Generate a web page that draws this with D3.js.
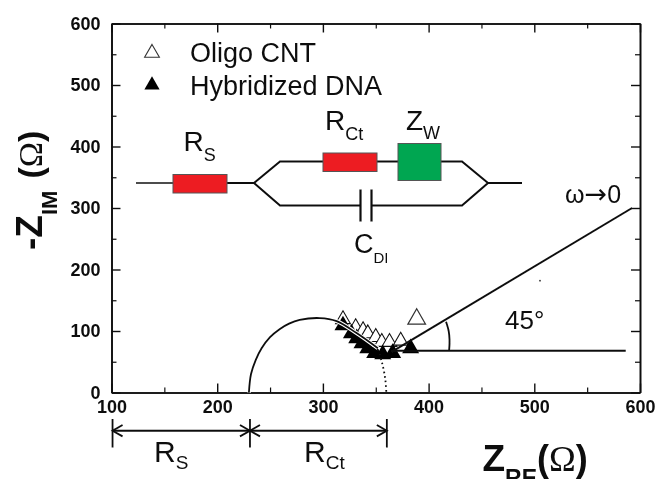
<!DOCTYPE html>
<html>
<head>
<meta charset="utf-8">
<script src="https://cdn.jsdelivr.net/npm/d3@7"></script>
<style>
  html, body { margin: 0; padding: 0; background: #fff; overflow: hidden; }
  svg { display: block; }
  text { font-family: "Liberation Sans", Arial, sans-serif; fill: #111; }
  .tick text { font-size: 18px; font-weight: bold; }
</style>
</head>
<body>
<svg></svg>
<script>
const xMajor = [100, 200, 300, 400, 500, 600];
const xMinor = [150, 250, 350, 450, 550];
const yMajor = [0, 100, 200, 300, 400, 500, 600];
const yMinor = [50, 150, 250, 350, 450, 550];

// [Z_RE, -Z_IM]
const oligoCnt = [[319, 119], [331, 106], [338, 101], [342.5, 96], [350, 90], [355.7, 82], [363, 82], [373.6, 84]];
const hybridizedDna = [[319, 109], [327, 96], [332, 88], [337, 80], [342.5, 72], [349, 64], [356.6, 62], [366, 64], [383, 72]];
const arcSolid = [[230, 0], [232, 30], [236.5, 53], [242, 72], [250, 90], [259, 103], [268, 112], [278, 118], [297, 121], [313, 116], [331.5, 97], [352, 72]];
const arcDotted = [[352, 70], [356, 48], [359, 22], [360, 0]];
const warburg = [[365, 66], [592.5, 300]];
const baseline = [[365, 68], [586.5, 68]];
const angleArc = [[419.4, 68], [419.8, 85], [419, 100], [416.5, 115]];
const spanMarks = [101, 231, 360.5];

const width = 656;
const height = 479;

const x = d3.scaleLinear().domain([100, 600]).range([111.5, 640]);
const y = d3.scaleLinear().domain([0, 600]).range([392.5, 23.5]);

const svg = d3.select('svg').attr('width', width).attr('height', height);

const defs = svg.append('defs');
defs.append('filter').attr('id', 'soft').append('feGaussianBlur').attr('stdDeviation', 0.45);

const root = svg.append('g').attr('filter', 'url(#soft)');

function addAxis(axis, tx, ty, major) {
  const g = root.append('g').attr('transform', 'translate(' + tx + ',' + ty + ')').call(axis);
  g.selectAll('.domain').attr('stroke', '#111').attr('stroke-width', 1.6);
  g.selectAll('.tick line').attr('stroke', '#111').attr('stroke-width', major ? 1.4 : 1.2);
  return g;
}

addAxis(d3.axisBottom(x).tickValues(xMinor).tickSizeInner(-5).tickSizeOuter(0).tickFormat(''), 0, y(0), false);
addAxis(d3.axisBottom(x).tickValues(xMajor).tickSizeInner(-9).tickSizeOuter(0).tickPadding(8), 0, y(0), true)
  .selectAll('.tick text').attr('dy', '0.72em');
addAxis(d3.axisTop(x).tickValues(xMinor).tickSizeInner(-5).tickSizeOuter(0).tickFormat(''), 0, y(600), false);
addAxis(d3.axisTop(x).tickValues(xMajor).tickSizeInner(-9).tickSizeOuter(0).tickFormat(''), 0, y(600), true);
addAxis(d3.axisLeft(y).tickValues(yMinor).tickSizeInner(-5).tickSizeOuter(0).tickFormat(''), x(100), 0, false);
addAxis(d3.axisLeft(y).tickValues(yMajor).tickSizeInner(-9).tickSizeOuter(0).tickPadding(11), x(100), 0, true);
addAxis(d3.axisRight(y).tickValues(yMinor).tickSizeInner(-5).tickSizeOuter(0).tickFormat(''), x(600), 0, false);
addAxis(d3.axisRight(y).tickValues(yMajor).tickSizeInner(-9).tickSizeOuter(0).tickFormat(''), x(600), 0, true);

const line = d3.line().x((d) => x(d[0])).y((d) => y(d[1]));
const curve = d3.line().x((d) => x(d[0])).y((d) => y(d[1])).curve(d3.curveCatmullRom);

root.append('g').selectAll('path').data(oligoCnt).join('path')
  .attr('d', d3.symbol().type(d3.symbolTriangle).size(95))
  .attr('transform', (d) => 'translate(' + x(d[0]) + ',' + y(d[1]) + ')')
  .attr('fill', '#fff').attr('stroke', '#111').attr('stroke-width', 1.1);

root.append('g').selectAll('path').data(hybridizedDna).join('path')
  .attr('d', d3.symbol().type(d3.symbolTriangle).size(125))
  .attr('transform', (d) => 'translate(' + x(d[0]) + ',' + y(d[1]) + ')')
  .attr('fill', '#000');

// white casing where the arc crosses the markers
root.append('path').datum(arcSolid).attr('d', curve).attr('fill', 'none').attr('stroke', '#fff').attr('stroke-width', 4);
root.append('path').datum(arcSolid).attr('d', curve).attr('fill', 'none').attr('stroke', '#111').attr('stroke-width', 1.8);
root.append('path').datum(arcDotted).attr('d', curve).attr('fill', 'none').attr('stroke', '#111')
  .attr('stroke-width', 1.8).attr('stroke-dasharray', '1.6 3');

root.append('path').datum(warburg).attr('d', line).attr('stroke', '#111').attr('stroke-width', 2);
root.append('path').datum(baseline).attr('d', line).attr('stroke', '#111').attr('stroke-width', 2);
root.append('path').datum(angleArc).attr('d', curve).attr('fill', 'none').attr('stroke', '#111').attr('stroke-width', 1.8);

// loose open triangle next to the data, and the speck in the scan
root.append('path').attr('d', d3.symbol().type(d3.symbolTriangle).size(135))
  .attr('transform', 'translate(416.7,319)')
  .attr('fill', '#fff').attr('stroke', '#333').attr('stroke-width', 1.2);
root.append('circle').attr('cx', 540).attr('cy', 280.7).attr('r', 0.9).attr('fill', '#333');

// legend
root.append('path').attr('d', d3.symbol().type(d3.symbolTriangle).size(95))
  .attr('transform', 'translate(152,53)')
  .attr('fill', '#fff').attr('stroke', '#333').attr('stroke-width', 1.1);
root.append('path').attr('d', d3.symbol().type(d3.symbolTriangle).size(100))
  .attr('transform', 'translate(152,85)').attr('fill', '#000');
root.append('text').attr('x', 190).attr('y', 62).attr('font-size', 27).text('Oligo CNT');
root.append('text').attr('x', 190).attr('y', 95).attr('font-size', 27).text('Hybridized DNA');

// equivalent circuit
const wire = (pts, w) => root.append('polyline')
  .attr('points', pts.join(' ')).attr('fill', 'none').attr('stroke', '#111').attr('stroke-width', w);
wire([[136, 183], [175, 183]], 1.4);
wire([[225, 183], [254, 183]], 2);
wire([[488, 183], [522, 183]], 2);
wire([[254, 183], [280, 161.5], [462, 161.5], [488, 183], [462, 205.5], [372, 205.5]], 2);
wire([[254, 183], [280, 205.5], [360, 205.5]], 2);
wire([[360.5, 189.5], [360.5, 221.5]], 2.2);
wire([[371.5, 189.5], [371.5, 221.5]], 2.2);

const box = (bx, by, bw, bh, color) => root.append('rect')
  .attr('x', bx).attr('y', by).attr('width', bw).attr('height', bh)
  .attr('fill', color).attr('stroke', '#555').attr('stroke-width', 1);
box(173, 174.5, 54, 18.5, '#ed1c24');
box(323, 153, 54, 18.5, '#ed1c24');
box(398, 143.5, 43, 37, '#00a651');

function subText(tx, ty, main, sub, size, subSize, dy, bold) {
  const t = root.append('text').attr('x', tx).attr('y', ty).attr('font-size', size);
  if (bold) t.attr('font-weight', 'bold');
  t.append('tspan').text(main);
  t.append('tspan').attr('font-size', subSize).attr('dy', dy).text(sub);
  return t;
}
subText(183.5, 151, 'R', 'S', 28, 18, 10);
subText(325, 130, 'R', 'Ct', 28, 18, 10);
subText(406, 130, 'Z', 'W', 28, 18, 9);
subText(354, 253, 'C', 'DI', 27, 15, 10);

const omega = root.append('text').attr('x', 565).attr('y', 203).attr('font-size', 25);
omega.append('tspan').text('ω');
omega.append('tspan').attr('font-family', 'DejaVu Sans').attr('font-size', 27).text('→');
omega.append('tspan').text('0');
root.append('text').attr('x', 505).attr('y', 329).attr('font-size', 26).text('45°');

// Rs / Rct span below the axis
const spanLine = (pts, w) => root.append('polyline').attr('points', pts.join(' '))
  .attr('fill', 'none').attr('stroke', '#111').attr('stroke-width', w);
spanMarks.forEach((m) => spanLine([[x(m), 419], [x(m), 447.5]], 1.8));
spanLine([[x(spanMarks[0]), 430.7], [x(spanMarks[2]), 430.7]], 2);
const arrow = (m, dir) => spanLine([[x(m) + dir * 10, 425], [x(m), 430.7], [x(m) + dir * 10, 436.4]], 1.8);
arrow(spanMarks[0], 1);
arrow(spanMarks[1], -1);
arrow(spanMarks[1], 1);
arrow(spanMarks[2], -1);

subText(154, 462, 'R', 'S', 30, 19, 7);
subText(304, 462, 'R', 'Ct', 30, 19, 7);

// axis titles, the scan cuts the x title off at the bottom
const xTitle = subText(482.5, 471, 'Z', 'RE', 37, 23, 15, true);
xTitle.append('tspan').attr('font-size', 36).attr('dy', -15).text('(');
xTitle.append('tspan').attr('font-size', 36).attr('font-weight', 'normal').attr('font-family', 'Liberation Serif').text('Ω');
xTitle.append('tspan').attr('font-size', 36).text(')');

const yTitle = subText(0, 0, '-Z', 'IM', 37, 22, 15, true)
  .attr('transform', 'translate(42,250) rotate(-90)');
yTitle.append('tspan').attr('font-size', 34).attr('dy', -15).attr('dx', 12).text('(');
yTitle.append('tspan').attr('font-size', 34).attr('font-weight', 'normal').attr('font-family', 'Liberation Serif').text('Ω');
yTitle.append('tspan').attr('font-size', 34).text(')');
</script>
</body>
</html>
